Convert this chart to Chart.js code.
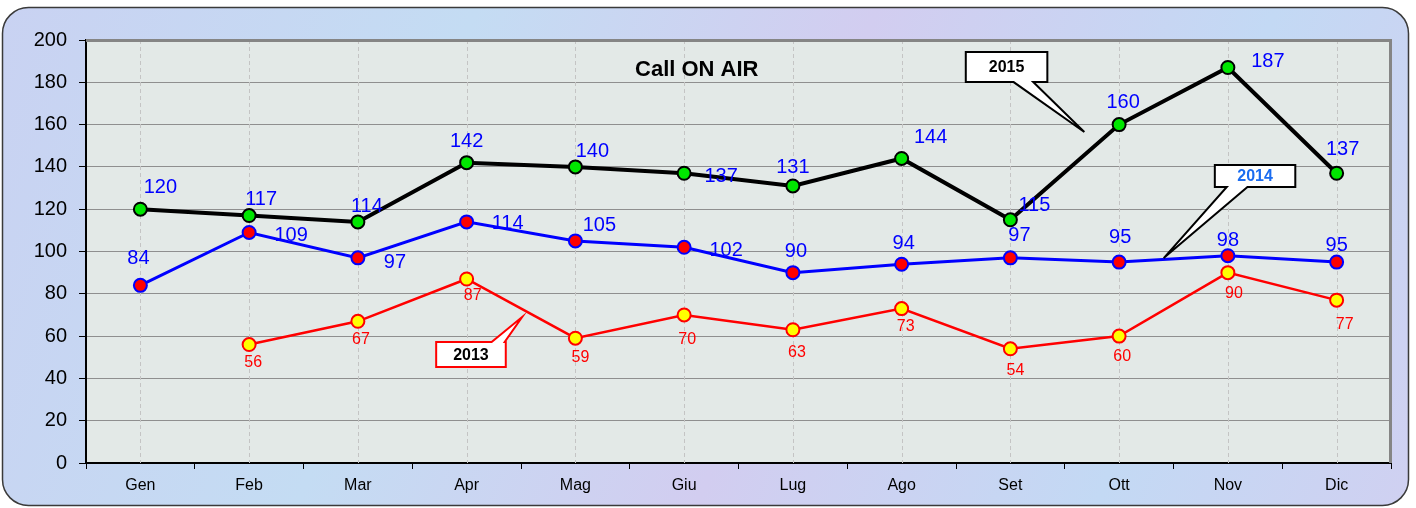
<!DOCTYPE html>
<html>
<head>
<meta charset="utf-8">
<script src="https://cdn.jsdelivr.net/npm/chart.js@4/dist/chart.umd.min.js"></script>
<style>
  html,body{margin:0;padding:0;background:#fff;}
  #wrap{width:1416px;height:508px;position:relative;}
</style>
</head>
<body>
<div id="wrap"><canvas id="myChart"></canvas></div>
<script>
// dati
const mesi = ['Gen','Feb','Mar','Apr','Mag','Giu','Lug','Ago','Set','Ott','Nov','Dic']
const anno2015 = [120,117,114,142,140,137,131,144,115,160,187,137]
const anno2014 = [84,109,97,114,105,102,90,94,97,95,98,95]
const anno2013 = [null,56,67,87,59,70,63,73,54,60,90,77]
const yTicks = [0,20,40,60,80,100,120,140,160,180,200]

// spostamento etichette (px) rispetto al punto
const off2015 = [[20,-22],[12,-16],[9,-15],[0,-21],[17,-15],[37,3],[0,-18],[29,-21],[24,-14],[4,-22],[40,-6],[6,-24]]
const off2014 = [[-2,-27],[42,3],[37,5],[41,2],[24,-15],[42,3],[3,-21],[2,-21],[9,-22],[1,-25],[0,-15],[0,-17]]
const off2013 = [null,[4,18],[3,18],[6,17],[5,19],[3,25],[4,23],[4,18],[5,22],[3,20],[6,21],[8,24]]

// fumetti (unita' di scala: indice mese, valore)
const fumetti = [
  {text:'2015', color:'#000', border:'#000', box:[7.59,194.3,8.34,180.1], base:[8.03,8.21], tip:[8.68,156.5], bottom:true},
  {text:'2014', color:'#1a6cf0', border:'#000', box:[9.88,140.9,10.62,130.5], base:[9.99,10.18], tip:[9.41,96.9], bottom:true},
  {text:'2013', color:'#000', border:'#ff0000', box:[2.72,57.2,3.36,45.4], base:[3.23,3.35], tip:[3.51,69.0], bottom:false}
]

const FONT = '"Liberation Sans", Arial, sans-serif'

const sfondo = {
  id:'sfondo',
  beforeDraw(chart){
    const c = chart.ctx, a = chart.chartArea
    c.save()
    // cornice esterna
    const g = c.createLinearGradient(0,0,1416,508)
    g.addColorStop(0,'#c9d2f2')
    g.addColorStop(0.3,'#c4dcf3')
    g.addColorStop(0.55,'#d2cdf0')
    g.addColorStop(0.8,'#c3d9f4')
    g.addColorStop(1,'#d0d0f1')
    c.beginPath()
    c.roundRect(2.5,7.5,1406,498,26)
    c.fillStyle = g
    c.fill()
    c.lineWidth = 1.5
    c.strokeStyle = '#3a3a3a'
    c.stroke()
    // area del grafico
    c.fillStyle = '#e3e9e7'
    c.fillRect(a.left,a.top,a.right-a.left,a.bottom-a.top)
    c.restore()
  },
  beforeDatasetsDraw(chart){
    const c = chart.ctx, a = chart.chartArea, xs = chart.scales.x
    c.save()
    c.strokeStyle = '#c4c4c4'
    c.lineWidth = 1
    c.setLineDash([4,3])
    for(let i=0;i<mesi.length;i++){
      const x = Math.round(xs.getPixelForValue(i))+0.5
      c.beginPath()
      c.moveTo(x,a.top)
      c.lineTo(x,a.bottom)
      c.stroke()
    }
    c.setLineDash([])
    // bordo grigio sopra e a destra
    c.strokeStyle = '#858585'
    c.lineWidth = 3
    c.beginPath()
    c.moveTo(a.left,a.top+0.5)
    c.lineTo(a.right-0.5,a.top+0.5)
    c.lineTo(a.right-0.5,a.bottom)
    c.stroke()
    // titolo
    c.fillStyle = '#000'
    c.font = 'bold 22px '+FONT
    c.textAlign = 'center'
    c.textBaseline = 'middle'
    c.fillText('Call ON AIR', a.left+(a.right-a.left)*0.468, 70)
    c.restore()
  }
}

const etichette = {
  id:'etichette',
  afterDatasetsDraw(chart){
    const c = chart.ctx, xs = chart.scales.x, ys = chart.scales.y
    c.save()
    c.textAlign = 'center'
    c.textBaseline = 'middle'
    const serie = [[anno2015,off2015,'#0000ff','20px '],[anno2014,off2014,'#0000ff','20px '],[anno2013,off2013,'#ff0000','16px ']]
    serie.forEach(([vals,offs,col,fs])=>{
      c.fillStyle = col
      c.font = fs+FONT
      vals.forEach((v,i)=>{
        if(v==null) return
        c.fillText(String(v), xs.getPixelForValue(i)+offs[i][0], ys.getPixelForValue(v)+offs[i][1])
      })
    })
    // fumetti
    fumetti.forEach(f=>{
      const x1 = xs.getPixelForValue(f.box[0]), y1 = ys.getPixelForValue(f.box[1])
      const x2 = xs.getPixelForValue(f.box[2]), y2 = ys.getPixelForValue(f.box[3])
      const b1 = xs.getPixelForValue(f.base[0]), b2 = xs.getPixelForValue(f.base[1])
      const tx = xs.getPixelForValue(f.tip[0]), ty = ys.getPixelForValue(f.tip[1])
      c.lineWidth = 2
      c.strokeStyle = f.border
      c.fillStyle = '#fff'
      c.beginPath()
      c.moveTo(x1,y1)
      if(f.bottom){
        c.lineTo(x2,y1); c.lineTo(x2,y2); c.lineTo(b2,y2); c.lineTo(tx,ty); c.lineTo(b1,y2); c.lineTo(x1,y2)
      }else{
        c.lineTo(b1,y1); c.lineTo(tx,ty); c.lineTo(b2,y1); c.lineTo(x2,y1); c.lineTo(x2,y2); c.lineTo(x1,y2)
      }
      c.closePath()
      c.fill()
      c.stroke()
      c.fillStyle = f.color
      c.font = 'bold 16px '+FONT
      c.fillText(f.text,(x1+x2)/2,(y1+y2)/2+1)
    })
    c.restore()
  }
}

new Chart(document.getElementById('myChart'),{
  type:'line',
  data:{
    labels:mesi,
    datasets:[{
      label:'2015',
      data:anno2015,
      borderColor:'#000',
      borderWidth:4,
      pointBackgroundColor:'#00e600',
      pointBorderColor:'#000',
      pointBorderWidth:2,
      pointRadius:6.5,
      tension:0
    },{
      label:'2014',
      data:anno2014,
      borderColor:'#0000ff',
      borderWidth:3,
      pointBackgroundColor:'#ff0000',
      pointBorderColor:'#0000ff',
      pointBorderWidth:2,
      pointRadius:6.5,
      tension:0
    },{
      label:'2013',
      data:anno2013,
      borderColor:'#ff0000',
      borderWidth:2.5,
      pointBackgroundColor:'#ffff00',
      pointBorderColor:'#ff0000',
      pointBorderWidth:2,
      pointRadius:6.5,
      tension:0
    }]
  },
  options:{
    responsive:true,
    maintainAspectRatio:false,
    animation:false,
    layout:{padding:{left:0,top:40,right:25,bottom:0}},
    plugins:{legend:{display:false},tooltip:{enabled:false},title:{display:false}},
    scales:{
      x:{
        offset:true,
        afterFit(s){ s.height = 45 },
        grid:{offset:true,drawOnChartArea:false,tickLength:6,tickColor:'#000',tickWidth:1},
        border:{color:'#000',width:2},
        ticks:{color:'#000',font:{family:FONT,size:16},padding:7}
      },
      y:{
        min:0,
        max:200,
        afterFit(s){ s.width = 86 },
        afterBuildTicks(s){ s.ticks = yTicks.map(v=>({value:v})) },
        grid:{color:'#8f8f8f',lineWidth:1,borderDash:[1,1],tickColor:'#000',tickLength:7,tickBorderDash:[]},
        border:{color:'#000',width:2},
        ticks:{color:'#000',font:{family:FONT,size:20},padding:12}
      }
    }
  },
  plugins:[sfondo,etichette]
})
</script>
</body>
</html>
